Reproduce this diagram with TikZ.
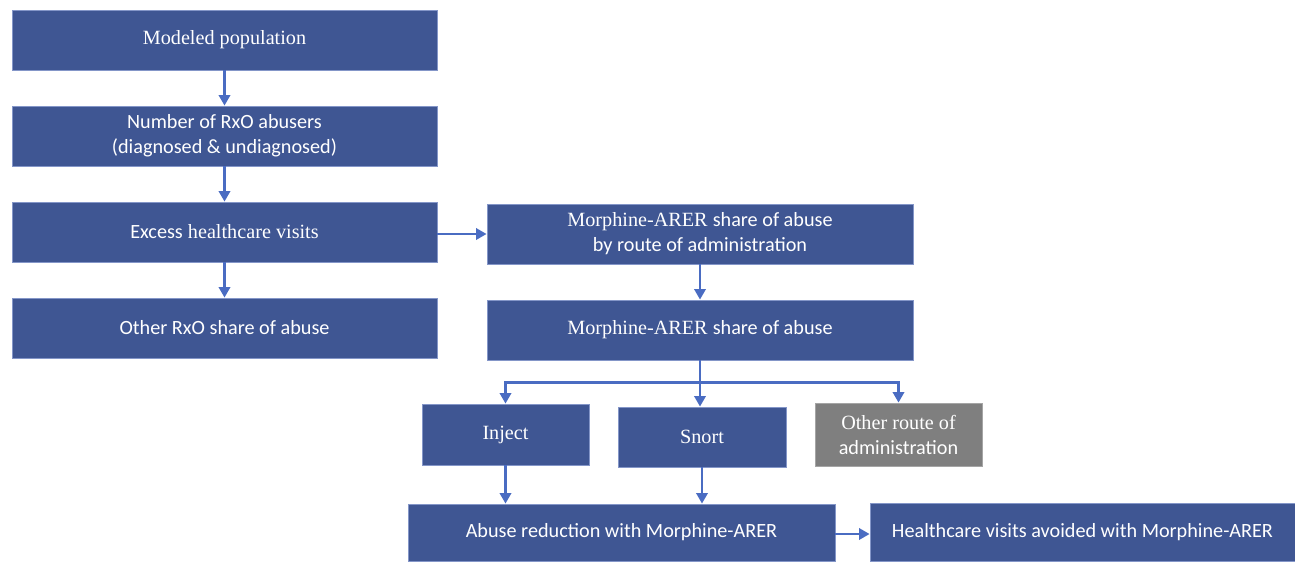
\documentclass[tikz,border=0pt]{standalone}
\usepackage{fontspec}
\setmainfont{Liberation Serif}
\setsansfont{Carlito}
\usetikzlibrary{positioning,arrows.meta}

\definecolor{stageblue}{RGB}{63,86,147}
\definecolor{stageedge}{RGB}{132,150,200}
\definecolor{flowblue}{RGB}{74,108,194}
\definecolor{stagegray}{RGB}{127,127,127}
\newcommand{\sftxt}[1]{{\sffamily #1}}

\tikzset{
  stage/.style={fill=stageblue, draw=stageedge, line width=0.5pt, text=white,
    inner sep=0pt, align=center, minimum width=8.5cm, minimum height=1.2cm,
    font=\fontsize{11.5}{14.2}\selectfont},
  substage/.style={stage, minimum width=3.34cm},
  flow/.style={draw=flowblue, line width=1.3pt, -{Triangle[length=6pt,width=6.5pt]}}
}

\begin{document}
\begin{tikzpicture}
\useasboundingbox (0,0) rectangle (25.9,-11.22);

\def\xl{4.49}
\def\xm{14.0}

\node[stage] (pop) at (\xl, -0.80) {Modeled population};
\node[stage] (abusers) at (\xl, -2.72) {\sftxt{Number of RxO abusers}\\ \sftxt{(diagnosed \& undiagnosed)}};
\node[stage] (excess) at (\xl, -4.64) {\sftxt{Excess} healthcare visits};
\node[stage] (otherrxo) at (\xl, -6.56) {\sftxt{Other RxO share of abuse}};

\node[stage, minimum width=8.52cm] (route) at (\xm, -4.68) {Morphine-ARER \sftxt{share of abuse}\\ \sftxt{by route of administration}};
\node[stage, minimum width=8.52cm] (share) at (\xm, -6.60) {Morphine-ARER \sftxt{share of abuse}};

\node[substage, minimum height=1.22cm] (inject) at (10.11, -8.69) {Inject};
\node[substage, minimum width=3.36cm] (snort) at (14.04, -8.74) {Snort};
\node[substage, fill=stagegray, draw=stagegray!70!white, minimum height=1.26cm] (otherroute) at (17.97, -8.69) {Other route of\\ \sftxt{administration}};

\node[stage, minimum width=8.54cm, minimum height=1.14cm] (reduce) at (12.43, -10.65) {\sftxt{Abuse reduction with Morphine-ARER}};
\node[stage, minimum height=1.16cm] (avoided) at (21.65, -10.64) {\sftxt{Healthcare visits avoided with Morphine-ARER}};

\coordinate (fork) at (\xm, -7.65);

\draw[flow] (pop) -- (abusers);
\draw[flow] (abusers) -- (excess);
\draw[flow] (excess) -- (otherrxo);
\draw[flow] (excess.east |- route.west) -- (route.west);
\draw[flow] (route) -- (share);
\draw[draw=flowblue, line width=1.3pt] (share.south) -- (fork);
\draw[flow] (fork) -| (inject.north);
\draw[flow] (fork) -- (fork |- snort.north);
\draw[flow] (fork) -| (otherroute.north);
\draw[flow] (inject.south) -- (inject.south |- reduce.north);
\draw[flow] (snort.south) -- (snort.south |- reduce.north);
\draw[flow] (reduce.east |- 0,-10.68) -- (avoided.west |- 0,-10.68);

\end{tikzpicture}
\end{document}
